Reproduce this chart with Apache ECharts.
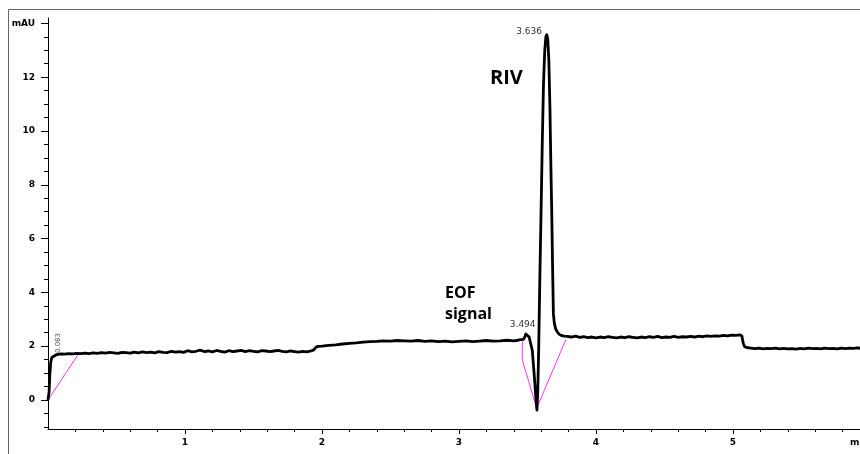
<!DOCTYPE html>
<html>
<head>
<meta charset="utf-8">
<script src="https://cdn.jsdelivr.net/npm/echarts@6/dist/echarts.min.js"></script>
<style>
html,body{margin:0;padding:0;background:#fff;}
#chart{width:860px;height:454px;}
</style>
</head>
<body>
<div id="chart"></div>
<script>
// ---- data (time in min, signal in mAU) ----
const traceStart = [
  [0.000,0.00],[0.008,0.30],[0.014,1.00],[0.020,1.40],[0.028,1.58],[0.040,1.65],
  [0.060,1.68],[0.080,1.70],[0.100,1.71]
];
const traceBaseline1 = [
  [0.12,1.70],[0.15,1.72],[0.18,1.71],[0.21,1.73],[0.24,1.72],[0.27,1.74],[0.30,1.72],
  [0.33,1.75],[0.36,1.73],[0.39,1.76],[0.42,1.74],[0.45,1.77],[0.48,1.75],[0.51,1.73],
  [0.54,1.77],[0.57,1.76],[0.60,1.74],[0.63,1.78],[0.66,1.75],[0.69,1.79],[0.72,1.76],
  [0.75,1.78],[0.78,1.75],[0.81,1.80],[0.84,1.77],[0.87,1.76],[0.90,1.81],[0.93,1.78],
  [0.96,1.80],[0.99,1.77],[1.02,1.83],[1.05,1.79],[1.08,1.81],[1.11,1.85],[1.14,1.80],
  [1.17,1.82],[1.20,1.79],[1.23,1.84],[1.26,1.81],[1.29,1.78],[1.32,1.83],[1.35,1.80],
  [1.38,1.82],[1.41,1.84],[1.44,1.80],[1.47,1.83],[1.50,1.81],[1.53,1.79],[1.56,1.83],
  [1.59,1.82],[1.62,1.80],[1.65,1.82],[1.68,1.84],[1.71,1.81],[1.74,1.79],[1.77,1.82],
  [1.80,1.80],[1.83,1.78],[1.86,1.81],[1.89,1.79],[1.92,1.82]
];
const traceRamp = [
  [1.94,1.86],[1.955,1.96],[1.97,1.99],[2.00,2.00],[2.05,2.03],[2.10,2.05],[2.15,2.08],
  [2.20,2.10],[2.25,2.12],[2.30,2.15],[2.35,2.17],[2.40,2.18],[2.45,2.20],[2.50,2.19],
  [2.55,2.21],[2.60,2.20],[2.65,2.19],[2.70,2.21],[2.75,2.18],[2.80,2.20],[2.85,2.17],
  [2.90,2.19],[2.95,2.16],[3.00,2.18],[3.05,2.20],[3.10,2.17],[3.15,2.19],[3.20,2.21],
  [3.25,2.19],[3.30,2.20],[3.35,2.22],[3.40,2.20],[3.43,2.22],[3.45,2.24]
];
const tracePeaks = [
  [3.462,2.28],[3.470,2.25],[3.480,2.34],[3.488,2.45],[3.494,2.49],[3.502,2.44],
  [3.512,2.34],[3.523,2.28],[3.535,1.84],[3.550,0.87],[3.562,0.00],[3.569,-0.38],
  [3.575,0.30],[3.582,2.00],[3.590,4.50],[3.599,7.00],[3.608,9.60],[3.617,11.80],
  [3.626,13.00],[3.634,13.50],[3.641,13.58],[3.648,13.40],[3.656,12.60],[3.664,10.80],
  [3.671,8.60],[3.677,7.00],[3.683,5.00],[3.689,3.20],[3.696,2.85],[3.705,2.65],
  [3.715,2.55],[3.730,2.45],[3.745,2.40],[3.765,2.37],[3.790,2.36]
];
const traceBaseline2 = [
  [3.82,2.34],[3.85,2.37],[3.88,2.33],[3.91,2.35],[3.94,2.32],[3.97,2.34],[4.00,2.31],
  [4.03,2.34],[4.06,2.32],[4.09,2.35],[4.12,2.33],[4.15,2.31],[4.18,2.34],[4.21,2.32],
  [4.24,2.35],[4.27,2.33],[4.30,2.31],[4.33,2.34],[4.36,2.32],[4.39,2.35],[4.42,2.33],
  [4.45,2.36],[4.48,2.32],[4.51,2.34],[4.54,2.33],[4.57,2.36],[4.60,2.33],[4.63,2.35],
  [4.66,2.34],[4.69,2.36],[4.72,2.34],[4.75,2.37],[4.78,2.35],[4.81,2.38],[4.84,2.36],
  [4.87,2.38],[4.90,2.37],[4.93,2.40],[4.96,2.38],[4.99,2.41],[5.02,2.40],[5.05,2.42]
];
const traceEnd = [
  [5.065,2.38],[5.075,2.10],[5.085,1.98],[5.10,1.95],[5.13,1.93],[5.16,1.91],[5.19,1.93],
  [5.22,1.90],[5.25,1.92],[5.28,1.91],[5.31,1.93],[5.34,1.90],[5.37,1.92],[5.40,1.90],
  [5.43,1.91],[5.46,1.89],[5.49,1.92],[5.52,1.90],[5.55,1.93],[5.58,1.91],[5.61,1.92],
  [5.64,1.90],[5.67,1.93],[5.70,1.91],[5.73,1.92],[5.76,1.90],[5.79,1.93],[5.82,1.91],
  [5.85,1.93],[5.88,1.92],[5.91,1.94],[5.93,1.92]
];
// integration baselines
const baseline1T = [0.000, 0.217];
const baseline1V = [0.00, 1.67];
const baseline2T = [3.462, 3.462, 3.567, 3.779];
const baseline2V = [2.26, 1.49, -0.31, 2.23];
// peak annotations
const peakTimes = [0.083, 3.494, 3.636];
const peakHeights = [1.69, 2.48, 13.58];
const peakLabels = ['0.083', '3.494', '3.636'];
// axis ticks
const yTicks = [0, 2, 4, 6, 8, 10, 12, 14];
const yTickLabels = ['0', '2', '4', '6', '8', '10', '12', 'mAU'];
const yMinorTicks = [-1, -0.5, 0.5, 1, 1.5, 2.5, 3, 3.5, 4.5, 5, 5.5, 6.5, 7, 7.5, 8.5, 9, 9.5, 10.5, 11, 11.5, 12.5, 13, 13.5];
const xTicks = [1, 2, 3, 4, 5];
const xMinorTicks = [0.2,0.4,0.6,0.8,1.2,1.4,1.6,1.8,2.2,2.4,2.6,2.8,3.2,3.4,3.6,3.8,4.2,4.4,4.6,4.8,5.2,5.4,5.6,5.8];

const trace = [].concat(traceStart, traceBaseline1, traceRamp, tracePeaks, traceBaseline2, traceEnd);
const base1 = baseline1T.map((t, i) => [t, baseline1V[i]]);
const base2 = baseline2T.map((t, i) => [t, baseline2V[i]]);

const labelStyles = [
  {rotate: 90, offset: [11.5, -1.5], fontSize: 7, color: '#555'},
  {rotate: 0, offset: [-4, -9], fontSize: 9, color: '#333'},
  {rotate: 0, offset: [-17, -3.5], fontSize: 9, color: '#333'}
];
const markData = peakTimes.map((t, i) => ({
  coord: [t, peakHeights[i]],
  symbolSize: 0,
  label: Object.assign({show: true, position: 'inside', formatter: peakLabels[i], fontFamily: 'DejaVu Sans'}, labelStyles[i])
}));

const FONT = 'DejaVu Sans';
const Y_MIN = -1.08, Y_MAX = 14.2, X_MAX = 5.927;

const chart = echarts.init(document.getElementById('chart'), null, {renderer: 'canvas'});
chart.setOption({
  animation: false,
  backgroundColor: '#fff',
  grid: {left: 48, right: 0, top: 18, bottom: 25, containLabel: false, outerBoundsMode: 'none'},
  xAxis: [{
    type: 'value', min: 0, max: X_MAX,
    axisLine: {onZero: false, lineStyle: {color: '#000', width: 1}},
    axisTick: {show: true, customValues: xTicks, length: 5, lineStyle: {color: '#000'}},
    axisLabel: {customValues: xTicks, margin: 9, fontFamily: FONT, fontWeight: 'bold', fontSize: 9, color: '#000'},
    splitLine: {show: false},
    name: 'min', nameLocation: 'end', nameGap: -10,
    nameTextStyle: {align: 'left', verticalAlign: 'top', padding: [9, 0, 0, 0], fontFamily: FONT, fontWeight: 'bold', fontSize: 9, color: '#000'}
  }, {
    type: 'value', min: 0, max: X_MAX, position: 'bottom',
    axisLine: {show: false, onZero: false},
    axisTick: {show: true, customValues: xMinorTicks, length: 3, lineStyle: {color: '#000'}},
    axisLabel: {show: false},
    splitLine: {show: false}
  }],
  yAxis: [{
    type: 'value', min: Y_MIN, max: Y_MAX, position: 'left',
    axisLine: {show: true, onZero: false, lineStyle: {color: '#000', width: 1}},
    axisTick: {show: true, customValues: yTicks, length: 7, lineStyle: {color: '#000'}},
    axisLabel: {customValues: yTicks, margin: 13, fontFamily: FONT, fontWeight: 'bold', fontSize: 9, color: '#000',
      formatter: v => yTickLabels[yTicks.indexOf(v)]},
    splitLine: {show: false}
  }, {
    type: 'value', min: Y_MIN, max: Y_MAX, position: 'left',
    axisLine: {show: false, onZero: false},
    axisTick: {show: true, customValues: yMinorTicks, length: 4, lineStyle: {color: '#000'}},
    axisLabel: {show: false},
    splitLine: {show: false}
  }],
  series: [{
    type: 'line', data: base1, xAxisIndex: 0, yAxisIndex: 0, showSymbol: false, silent: true,
    lineStyle: {color: '#ff33ff', width: 1}, z: 1
  }, {
    type: 'line', data: base2, xAxisIndex: 0, yAxisIndex: 0, showSymbol: false, silent: true,
    lineStyle: {color: '#ff33ff', width: 1}, z: 1
  }, {
    type: 'line', data: trace, xAxisIndex: 0, yAxisIndex: 0, showSymbol: false, silent: true,
    lineStyle: {color: '#000', width: 2.8, join: 'round'}, z: 2,
    markPoint: {symbol: 'circle', symbolSize: 0, silent: true, data: markData}
  }],
  graphic: [
    {type: 'line', shape: {x1: 8.5, y1: 9.5, x2: 8.5, y2: 454}, style: {stroke: '#666', lineWidth: 1}},
    {type: 'line', shape: {x1: 8.5, y1: 9.5, x2: 860, y2: 9.5}, style: {stroke: '#666', lineWidth: 1}},
    {type: 'text', style: {x: 490, y: 78, text: 'RIV', font: 'bold 20px "Open Sans"', fill: '#000', verticalAlign: 'middle'}},
    {type: 'text', style: {x: 445, y: 293, text: 'EOF', font: 'bold 16px "Open Sans"', fill: '#000', verticalAlign: 'middle'}},
    {type: 'text', style: {x: 445, y: 314, text: 'signal', font: 'bold 16px "Open Sans"', fill: '#000', verticalAlign: 'middle'}}
  ]
});
</script>
</body>
</html>
